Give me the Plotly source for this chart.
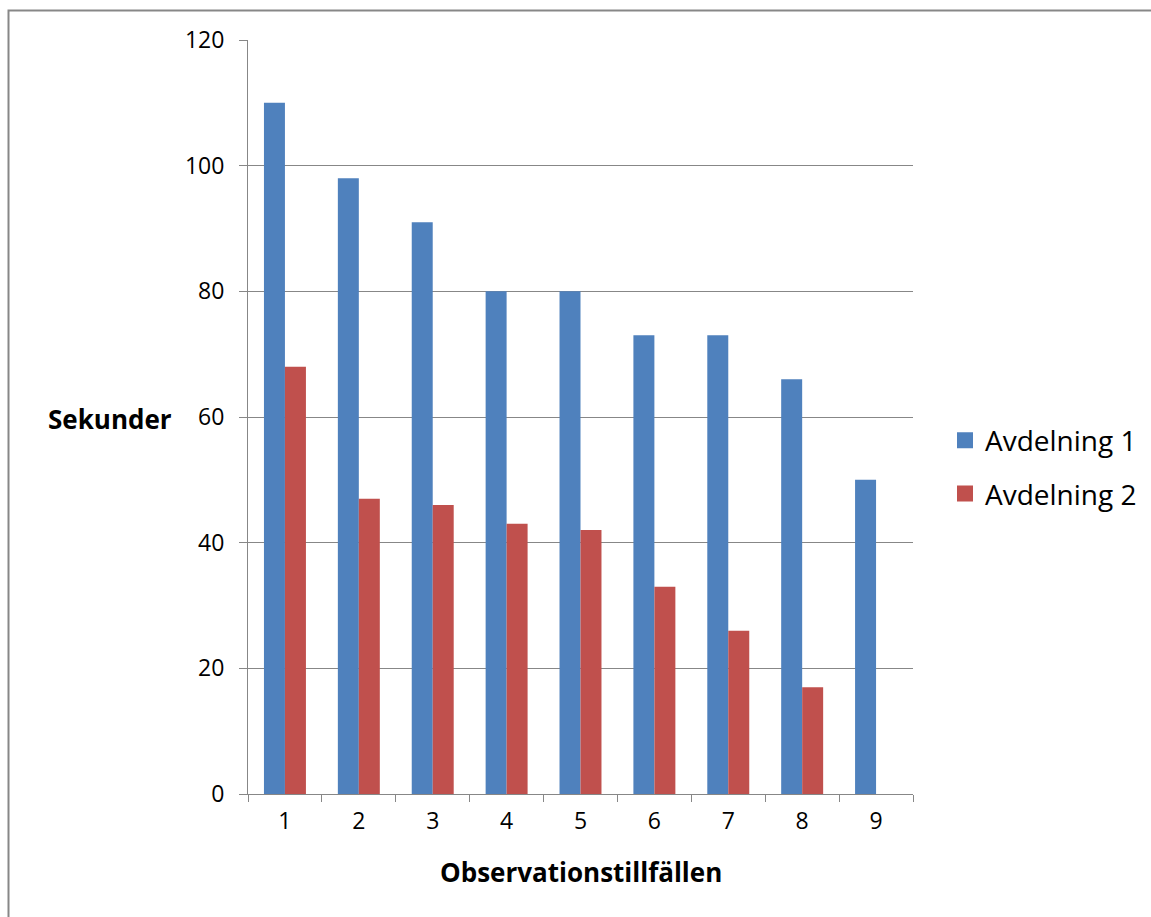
import plotly.graph_objects as go

categories = ["1", "2", "3", "4", "5", "6", "7", "8", "9"]
avdelning_1 = [110, 98, 91, 80, 80, 73, 73, 66, 50]
avdelning_2 = [68, 47, 46, 43, 42, 33, 26, 17, None]
series_names = ["Avdelning 1", "Avdelning 2"]
series_colors = ["#4F81BD", "#C0504D"]
y_ticks = [0, 20, 40, 60, 80, 100, 120]

W, H = 1151, 917
L, R, T, B = 248, 913, 40, 794
pw, ph = R - L, B - T

def px(x):
    return (x - L) / pw

def py(y):
    return (B - y) / ph

GRAY = "#878787"
FONT = "Open Sans"

fig = go.Figure()
for vals, name, col in zip([avdelning_1, avdelning_2], series_names, series_colors):
    fig.add_trace(go.Bar(x=categories, y=vals, name=name,
                         marker=dict(color=col, line=dict(width=0)),
                         showlegend=False))
# legend entries with larger square swatches
for i, (name, col) in enumerate(zip(series_names, series_colors)):
    fig.add_trace(go.Scatter(x=[None], y=[None], mode="markers", name=name,
                             marker=dict(symbol="square", size=17, color=col),
                             legendgroup=f"g{i}", showlegend=True, hoverinfo="skip"))

fig.update_layout(
    width=W, height=H,
    margin=dict(l=L, r=W - R, t=T, b=H - B, autoexpand=False),
    paper_bgcolor="white", plot_bgcolor="white",
    font=dict(family=FONT, color="black"),
    barmode="group", bargap=0.432, bargroupgap=0,
    showlegend=True,
    legend=dict(x=px(945), y=py(467), xanchor="left", yanchor="middle",
                font=dict(size=28, family=FONT), tracegroupgap=14,
                itemsizing="trace",
                bgcolor="rgba(0,0,0,0)"),
    xaxis=dict(type="category", showgrid=False, showline=True, linecolor=GRAY, linewidth=1,
               ticks="outside", tickson="boundaries", ticklen=7, tickcolor=GRAY,
               tickfont=dict(size=23, family=FONT), ticklabelstandoff=6),
    yaxis=dict(range=[0, 120], tickvals=y_ticks, showgrid=True, gridcolor=GRAY, gridwidth=1,
               zeroline=False, showline=True, linecolor=GRAY, linewidth=1,
               ticks="outside", ticklen=8, tickcolor=GRAY,
               tickfont=dict(size=23, family=FONT), ticklabelstandoff=10),
    shapes=[dict(type="rect", xref="paper", yref="paper",
                 x0=px(8.5), x1=px(1200), y0=py(960), y1=py(10.5),
                 line=dict(color=GRAY, width=2), fillcolor="rgba(0,0,0,0)", layer="below")],
    annotations=[
        dict(text="<b>Sekunder</b>", xref="paper", yref="paper", x=px(46), y=py(419),
             xanchor="left", yanchor="middle", showarrow=False, font=dict(size=26, family=FONT)),
        dict(text="<b>Observationstillfällen</b>", xref="paper", yref="paper", x=px(581), y=py(872),
             xanchor="center", yanchor="middle", showarrow=False, font=dict(size=26, family=FONT)),
    ],
)

fig.write_html("out.html")
